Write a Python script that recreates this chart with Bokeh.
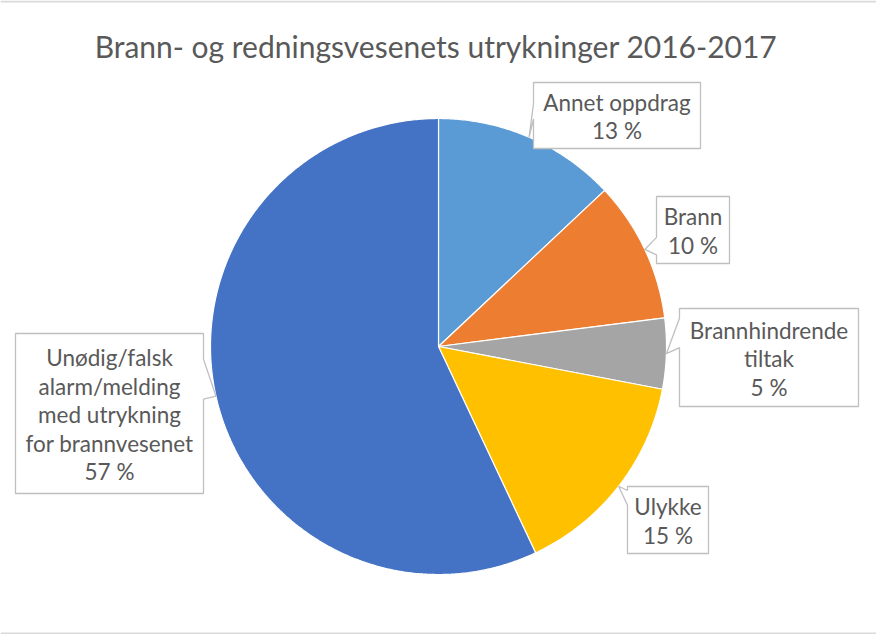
import numpy as np
from bokeh.plotting import figure
from bokeh.models import Range1d
from bokeh.core.properties import value
from bokeh.embed import file_html
from bokeh.resources import INLINE

# ---------------- data ----------------
title = "Brann- og redningsvesenets utrykninger 2016-2017"
categories = ["Annet oppdrag", "Brann", "Brannhindrende tiltak", "Ulykke",
              "Unødig/falsk alarm/melding med utrykning for brannvesenet"]
label_lines = [["Annet oppdrag"], ["Brann"], ["Brannhindrende", "tiltak"], ["Ulykke"],
               ["Unødig/falsk", "alarm/melding", "med utrykning", "for brannvesenet"]]
values = [13, 10, 5, 15, 57]
colors = ["#5B9BD5", "#ED7D31", "#A5A5A5", "#FFC000", "#4472C4"]

# ---------------- layout ----------------
W, H = 876, 634
CX, CY, R = 438, 346, 228
FONT = "Lato"
TXT = "#595959"
# label boxes: left, top, right, bottom, pointer base fractions (top/bottom along edge)
boxes = [
    (533, 82, 700, 148, 0.32, 0.55),
    (656, 196, 729, 263, 0.61, 0.87),
    (679, 308, 858, 406, 0.10, 0.40),
    (627, 486, 708, 553, 0.06, 0.28),
    (15, 333, 203, 493, 0.16, 0.41),
]
LINE_H = 28.5

p = figure(width=W, height=H, x_range=Range1d(0, W), y_range=Range1d(H, 0),
           output_backend="svg", toolbar_location=None, min_border=0,
           x_axis_location=None, y_axis_location=None)
p.grid.visible = False
p.outline_line_color = None
p.background_fill_color = "white"
p.border_fill_color = "white"

# chart border (top / bottom)
p.segment(x0=[0, 0], y0=[1, 633], x1=[W, W], y1=[1, 633], line_color="#D9D9D9", line_width=2)

# pie slices clockwise from 12 o'clock
total = float(sum(values))
cum = np.concatenate([[0], np.cumsum(values)]) / total * 2 * np.pi
xs, ys, tips = [], [], []
for i in range(len(values)):
    a0, a1 = cum[i], cum[i + 1]
    n = max(3, int((a1 - a0) / (2 * np.pi) * 720))
    t = np.linspace(a0, a1, n)
    xs.append([CX] + list(CX + R * np.sin(t)))
    ys.append([CY] + list(CY - R * np.cos(t)))
    m = (a0 + a1) / 2
    tips.append((CX + R * np.sin(m), CY - R * np.cos(m)))

p.patches(xs, ys, fill_color=colors, line_color="white", line_width=1.2)

# callout labels
for i, (l, t, r, b, f1, f2) in enumerate(boxes):
    tx, ty = tips[i]
    h = b - t
    y1, y2 = t + f1 * h, t + f2 * h
    if tx < l:
        px = [l, r, r, l, l, tx, l]
        py = [t, t, b, b, y2, ty, y1]
    else:
        px = [l, r, r, tx, r, r, l]
        py = [t, t, y1, ty, y2, b, b]
    p.patch(px, py, fill_color="white", line_color="#BFBFBF", line_width=1.3)
    lines = label_lines[i] + [f"{values[i]} %"]
    cy = (t + b) / 2
    n = len(lines)
    ly = [cy + (k - (n - 1) / 2) * LINE_H + 1 for k in range(n)]
    p.text(x=[(l + r) / 2] * n, y=ly, text=lines, text_font=value(FONT),
           text_font_size="22.5px", text_color=TXT, text_align="center",
           text_baseline="middle")

p.text(x=[435.5], y=[45], text=[title], text_font=value(FONT), text_font_size="30px",
       text_color=TXT, text_align="center", text_baseline="middle")

open("out.html", "w").write(file_html(p, INLINE))
